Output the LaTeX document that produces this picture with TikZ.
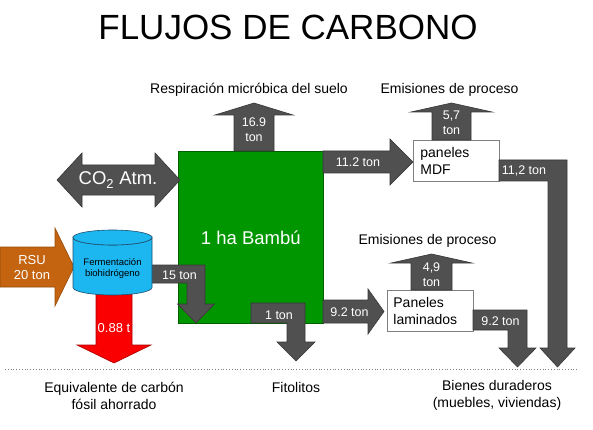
\documentclass[tikz,border=0pt]{standalone}
\usepackage{fontspec}
\setmainfont{Liberation Sans}
\definecolor{flowgray}{RGB}{80,80,80}
\definecolor{flowedge}{RGB}{55,55,55}
\definecolor{bamboo}{RGB}{0,150,0}
\definecolor{bambooedge}{RGB}{0,95,0}
\definecolor{rsu}{RGB}{196,100,16}
\definecolor{rsuedge}{RGB}{150,75,10}
\definecolor{cyl}{RGB}{28,182,240}
\definecolor{cyledge}{RGB}{30,80,110}
\definecolor{redflow}{RGB}{250,0,0}
\definecolor{rededge}{RGB}{170,0,0}
\begin{document}
\begin{tikzpicture}[x=1pt,y=-1pt,
  flow/.style={fill=flowgray, draw=flowedge, line width=0.6pt, line join=miter},
  wt/.style={text=white, inner sep=0pt, align=center},
  num/.style={wt, font=\fontsize{12.5}{15}\selectfont},
  lbl/.style={text=black, inner sep=0pt, align=center, font=\fontsize{14}{17}\selectfont},
  panel/.style={draw=gray, fill=white, line width=0.8pt, anchor=north west,
    minimum width=86pt, minimum height=41pt, align=left,
    font=\fontsize{14}{17}\selectfont}]
\useasboundingbox (0,0) rectangle (593,430);

% title
\node (title) [inner sep=0pt, font=\fontsize{35}{40}\selectfont] at (288,27) {FLUJOS DE CARBONO};

% green field
\node (field) [fill=bamboo, draw=bambooedge, line width=0.6pt, anchor=north west,
  minimum width=145pt, minimum height=172pt, text=white,
  font=\fontsize{18.5}{22}\selectfont] at (178,151) {1 ha Bambú};

% CO2 double arrow
\draw[flow] (57,180) -- (82,153) -- (82,165) -- (155,165) -- (155,153) -- (180,180)
  -- (155,207) -- (155,195) -- (82,195) -- (82,207) -- cycle;
\node (co2) [wt, font=\fontsize{18.5}{22}\selectfont] at (118,180) {CO\textsubscript{2} Atm.};

% soil respiration
\draw[flow] (234,151) -- (234,115) -- (215,115) -- (254,103) -- (293,115) -- (274,115) -- (274,151) -- cycle;
\node (resp) [num] at (254,130) {16.9\\ton};
\node (resplbl) [lbl] at (249,90) {Respiración micróbica del suelo};

% to MDF
\draw[flow] (323,151) -- (390,151) -- (390,139) -- (413,162) -- (390,185) -- (390,173) -- (323,173) -- cycle;
\node (mdfin) [num] at (358,162) {11.2 ton};

% MDF box
\node (mdf) [panel, inner xsep=7pt, text width=72pt] at (413,140) {paneles\\MDF};

% MDF emissions
\draw[flow] (432,140) -- (432,112) -- (411,112) -- (451.5,103) -- (492,112) -- (471,112) -- (471,140) -- cycle;
\node (mdfem) [num] at (451.5,123) {5,7\\ton};
\node (mdfemlbl) [lbl] at (449.5,90) {Emisiones de proceso};

% MDF to durable goods
\draw[flow] (499,160) -- (567,160) -- (567,348) -- (575,348) -- (557.5,367) -- (540,348)
  -- (548,348) -- (548,181) -- (499,181) -- cycle;
\node (mdfout) [num] at (524,171) {11,2 ton};

% to laminated panels
\draw[flow] (323,300) -- (368,300) -- (368,289) -- (384,311.5) -- (368,334) -- (368,323) -- (323,323) -- cycle;
\node (lamin) [num] at (349.5,312.5) {9.2 ton};

% laminated box
\node (lam) [panel, inner xsep=6pt, text width=74pt] at (387,290) {Paneles\\laminados};

% laminated emissions
\draw[flow] (411,290) -- (411,263) -- (391,263) -- (431.5,254) -- (472,263) -- (452,263) -- (452,290) -- cycle;
\node (lamem) [num] at (431.5,275) {4,9\\ton};
\node (lamemlbl) [lbl] at (427.5,241) {Emisiones de proceso};

% laminated to durable goods
\draw[flow] (473,310) -- (527,310) -- (527,348) -- (536,348) -- (517.5,367) -- (499,348)
  -- (508,348) -- (508,330) -- (473,330) -- cycle;
\node (lamout) [num] at (500.5,321) {9.2 ton};

% phytoliths
\draw[flow] (251,303) -- (305,303) -- (305,342) -- (315,342) -- (296,361) -- (277,342)
  -- (287,342) -- (287,323) -- (251,323) -- cycle;
\node (fito) [num] at (279,315.5) {1 ton};

% 15 ton into field
\draw[flow] (140,265) -- (205,265) -- (205,304) -- (214.5,304) -- (196,323) -- (177.5,304)
  -- (187,304) -- (187,283) -- (140,283) -- cycle;
\node (fifteen) [num] at (179.5,275) {15 ton};

% red arrow
\draw[fill=redflow, draw=rededge, line width=0.6pt] (96,285) -- (132,285) -- (132,345) -- (151,345)
  -- (114,363) -- (77,345) -- (96,345) -- cycle;
\node (saved) [wt, font=\fontsize{13}{15}\selectfont] at (114,328) {0.88 t};

% RSU arrow
\draw[fill=rsu, draw=rsuedge, line width=0.6pt] (0,247) -- (55,247) -- (55,228) -- (74,267)
  -- (55,306) -- (55,287) -- (0,287) -- cycle;
\node (rsulbl) [wt, font=\fontsize{13}{15.5}\selectfont] at (32,267.5) {RSU\\20 ton};

% cylinder
\draw[fill=cyl, draw=cyledge, line width=0.6pt] (73,237.5) -- (73,287.5)
  arc[start angle=180, end angle=360, x radius=39.5pt, y radius=7.5pt]
  -- (152,237.5)
  arc[start angle=0, end angle=-180, x radius=39.5pt, y radius=7.5pt] -- cycle;
\draw[fill=cyl, draw=cyledge, line width=0.6pt] (112.5,237.5) ellipse[x radius=39.5pt, y radius=7.5pt];
\node (ferm) [inner sep=0pt, align=center, font=\fontsize{9.5}{11.5}\selectfont] at (112.5,268.5) {Fermentación\\biohidrógeno};

% dotted baseline
\coordinate (dl) at (5,369);
\coordinate (dr) at (578,369);
\draw[gray, dotted, line width=0.8pt] (dl) -- (dr);

% bottom labels
\node (fossil) [lbl] at (114,395.5) {Equivalente de carbón\\fósil ahorrado};
\node (fitolbl) [lbl] at (296,387) {Fitolitos};
\node (durable) [lbl] at (497,395.5) {Bienes duraderos\\(muebles, viviendas)};
\end{tikzpicture}
\end{document}
